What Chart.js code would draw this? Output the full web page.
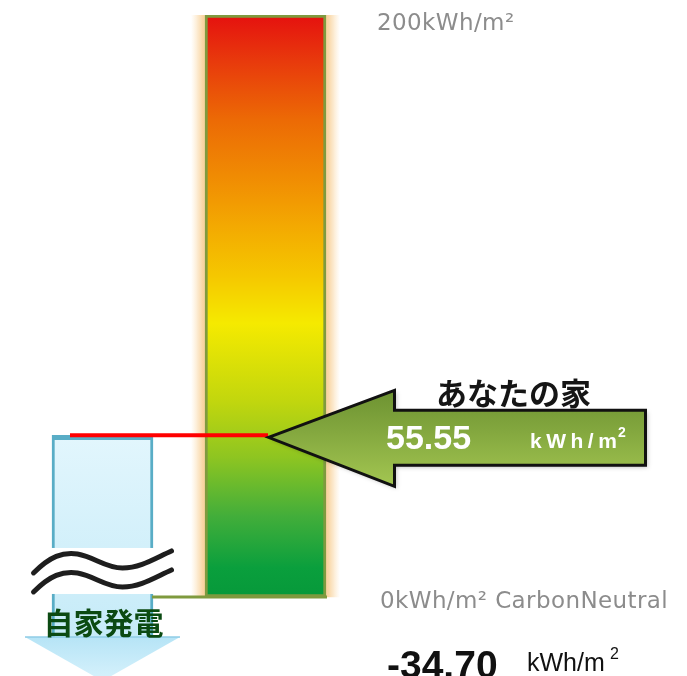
<!DOCTYPE html>
<html>
<head>
<meta charset="utf-8">
<script src="https://cdn.jsdelivr.net/npm/chart.js@4.4.1/dist/chart.umd.min.js"></script>
<style>
  html, body { margin: 0; padding: 0; background: #fff; overflow: hidden; }
</style>
</head>
<body>
<canvas id="meterChart" width="687" height="676"></canvas>
<script>
// Data
const meterRange = [0, 200];               // kWh/m2, bottom and top of the meter
const tickLabels = ['0kWh/m² CarbonNeutral', '200kWh/m²'];
const homeValue = [55.55];                 // あなたの家
const generationValue = [-34.70];          // 自家発電
const categories = ['自家発電', 'meter', 'あなたの家'];

// Layout (pixels on a 0..687 x axis)
const meterX = 265.5, meterWidth = 121;
const genX = 102.5, genWidth = 101;
const arrowHeadTop = -13.74;   // y value where the generation arrow head begins (visual break below)
const yMin = -27.15;

const olive = '#7f9a3e';

const meterGradient = (c) => {
  const chart = c.chart;
  if (!chart.chartArea) return '#f2e600';
  const y = chart.scales.y;
  const g = chart.ctx.createLinearGradient(0, y.getPixelForValue(meterRange[1]), 0, y.getPixelForValue(meterRange[0]));
  g.addColorStop(0.00, '#e5110f');
  g.addColorStop(0.08, '#e83a0c');
  g.addColorStop(0.18, '#ec6a05');
  g.addColorStop(0.32, '#f29a02');
  g.addColorStop(0.45, '#f5c800');
  g.addColorStop(0.53, '#f5ea00');
  g.addColorStop(0.66, '#c3d70d');
  g.addColorStop(0.76, '#8ec521');
  g.addColorStop(0.86, '#43ae3a');
  g.addColorStop(0.95, '#0a9f3d');
  g.addColorStop(1.00, '#07993a');
  return g;
};

const glowGradient = (c) => {
  const chart = c.chart;
  if (!chart.chartArea) return '#fbe0b8';
  const x = chart.scales.x;
  const l = x.getPixelForValue(meterX - meterWidth / 2), r = x.getPixelForValue(meterX + meterWidth / 2);
  const g = chart.ctx.createLinearGradient(l - 14, 0, r + 14, 0);
  const w = (r - l) + 28;
  g.addColorStop(0, 'rgba(250,215,160,0)');
  g.addColorStop(12 / w, 'rgba(248,205,145,0.85)');
  g.addColorStop(0.5, 'rgba(248,205,145,0.85)');
  g.addColorStop(1 - 12 / w, 'rgba(248,205,145,0.85)');
  g.addColorStop(1, 'rgba(250,215,160,0)');
  return g;
};

const genGradient = (c) => {
  const chart = c.chart;
  if (!chart.chartArea) return '#d8f2fb';
  const y = chart.scales.y;
  const g = chart.ctx.createLinearGradient(0, y.getPixelForValue(homeValue[0]), 0, y.getPixelForValue(arrowHeadTop));
  g.addColorStop(0, '#e2f6fd');
  g.addColorStop(1, '#c6ebf8');
  return g;
};

const decor = {
  id: 'decor',
  afterDatasetsDraw(chart) {
    const { ctx, scales: { x, y } } = chart;
    ctx.save();

    // generation arrow head
    const hx = x.getPixelForValue(genX);
    const hTop = y.getPixelForValue(arrowHeadTop);
    const hg = ctx.createLinearGradient(0, hTop, 0, hTop + 44);
    hg.addColorStop(0, '#b6e4f6');
    hg.addColorStop(1, '#d7f2fc');
    ctx.beginPath();
    ctx.moveTo(hx - 77.5, hTop);
    ctx.lineTo(hx + 77.5, hTop);
    ctx.lineTo(hx, hTop + 44);
    ctx.closePath();
    ctx.fillStyle = hg;
    ctx.fill();
    ctx.strokeStyle = '#8fcde6';
    ctx.lineWidth = 1.5;
    ctx.beginPath();
    ctx.moveTo(hx - 77.5, hTop);
    ctx.lineTo(hx + 77.5, hTop);
    ctx.stroke();

    // break in the generation arrow
    const by = y.getPixelForValue(8.6);
    ctx.fillStyle = '#ffffff';
    ctx.fillRect(hx - 72, by - 24, 146, 46);
    ctx.strokeStyle = '#1e1e1e';
    ctx.lineWidth = 5;
    ctx.lineCap = 'round';
    [0, 19].forEach(off => {
      ctx.beginPath();
      ctx.moveTo(hx - 69, by + 1 + off);
      ctx.bezierCurveTo(hx - 52, by - 16 + off, hx - 40, by - 20 + off, hx - 25, by - 18 + off);
      ctx.bezierCurveTo(hx - 8, by - 15 + off, hx + 3, by - 4 + off, hx + 20, by - 4 + off);
      ctx.bezierCurveTo(hx + 38, by - 4 + off, hx + 53, by - 14 + off, hx + 69, by - 21 + off);
      ctx.stroke();
    });

    ctx.fillStyle = '#0b4a12';
    ctx.font = 'bold 30px "Noto Sans CJK JP"';
    ctx.textAlign = 'center';
    ctx.textBaseline = 'middle';
    ctx.fillText(categories[0], hx + 1, hTop - 14);

    // home arrow (points left at home value)
    const ty = y.getPixelForValue(homeValue[0]) + 2;
    const tx = x.getPixelForValue(meterX + 3);
    const ag = ctx.createLinearGradient(0, ty - 48, 0, ty + 48);
    ag.addColorStop(0, '#6c9231');
    ag.addColorStop(0.45, '#84a83f');
    ag.addColorStop(1, '#a3c651');
    ctx.beginPath();
    ctx.moveTo(tx, ty);
    ctx.lineTo(tx + 126, ty - 47);
    ctx.lineTo(tx + 126, ty - 27);
    ctx.lineTo(tx + 377, ty - 27);
    ctx.lineTo(tx + 377, ty + 28);
    ctx.lineTo(tx + 126, ty + 28);
    ctx.lineTo(tx + 126, ty + 49);
    ctx.closePath();
    ctx.shadowColor = 'rgba(0,0,0,0.25)';
    ctx.shadowBlur = 4;
    ctx.shadowOffsetX = 2;
    ctx.shadowOffsetY = 2;
    ctx.fillStyle = ag;
    ctx.fill();
    ctx.shadowColor = 'transparent';
    ctx.lineJoin = 'miter';
    ctx.lineWidth = 3;
    ctx.strokeStyle = '#111';
    ctx.stroke();

    ctx.textAlign = 'left';
    ctx.textBaseline = 'alphabetic';
    ctx.fillStyle = '#151515';
    ctx.font = 'bold 31px "Noto Sans CJK JP"';
    ctx.fillText(categories[2], 436, ty - 32);

    ctx.fillStyle = '#ffffff';
    ctx.font = 'bold 34px "Liberation Sans"';
    ctx.fillText(homeValue[0].toFixed(2), 386, ty + 12);
    ctx.font = 'bold 21px "Liberation Sans"';
    ctx.letterSpacing = '4.5px';
    ctx.fillText('kWh/m', 530, ty + 11);
    ctx.letterSpacing = '0px';
    ctx.font = 'bold 14px "Liberation Sans"';
    ctx.fillText('2', 618, ty);

    // scale labels
    ctx.fillStyle = '#8c8c8c';
    ctx.font = '23px "DejaVu Sans"';
    ctx.letterSpacing = '0.4px';
    ctx.textBaseline = 'middle';
    ctx.fillText(tickLabels[1], 377, y.getPixelForValue(meterRange[1]) + 9);
    ctx.fillText(tickLabels[0], 380, y.getPixelForValue(meterRange[0]) + 5);
    ctx.letterSpacing = '0px';

    // generation value
    ctx.textBaseline = 'alphabetic';
    ctx.fillStyle = '#111';
    ctx.font = 'bold 39px "Liberation Sans"';
    ctx.fillText(generationValue[0].toFixed(2), 387, 678);
    ctx.font = '25px "Liberation Sans"';
    ctx.fillText('kWh/m', 527, 671);
    ctx.font = '16px "Liberation Sans"';
    ctx.fillText('2', 610, 659);

    ctx.restore();
  }
};

new Chart(document.getElementById('meterChart'), {
  type: 'bar',
  data: {
    datasets: [
      {
        type: 'line',
        data: [{ x: 70, y: homeValue[0] }, { x: 268, y: homeValue[0] }],
        borderColor: '#ff0000',
        borderWidth: 4,
        pointRadius: 0,
        order: 1
      },
      {
        type: 'line',
        data: [{ x: 152, y: meterRange[0] }, { x: 327, y: meterRange[0] }],
        borderColor: olive,
        borderWidth: 3,
        pointRadius: 0,
        order: 2
      },
      {
        data: [{ x: genX, y: [arrowHeadTop, homeValue[0]] }],
        backgroundColor: genGradient,
        borderColor: '#59adc6',
        borderWidth: { left: 3, right: 3, top: 5, bottom: 0 },
        borderSkipped: false,
        barThickness: genWidth,
        grouped: false,
        order: 3
      },
      {
        data: [{ x: meterX, y: meterRange }],
        backgroundColor: meterGradient,
        borderColor: olive,
        borderWidth: 3,
        borderSkipped: false,
        barThickness: meterWidth,
        grouped: false,
        order: 4
      },
      {
        data: [{ x: meterX, y: meterRange }],
        backgroundColor: glowGradient,
        borderWidth: 0,
        barThickness: meterWidth + 28,
        grouped: false,
        order: 5
      }
    ]
  },
  options: {
    responsive: false,
    animation: false,
    devicePixelRatio: 1,
    layout: { padding: { top: 15, bottom: 0, left: 0, right: 0 } },
    plugins: {
      legend: { display: false },
      tooltip: { enabled: false }
    },
    scales: {
      x: { type: 'linear', min: 0, max: 687, offset: false, display: false },
      y: { min: yMin, max: meterRange[1], display: false }
    }
  },
  plugins: [decor]
});
</script>
</body>
</html>
